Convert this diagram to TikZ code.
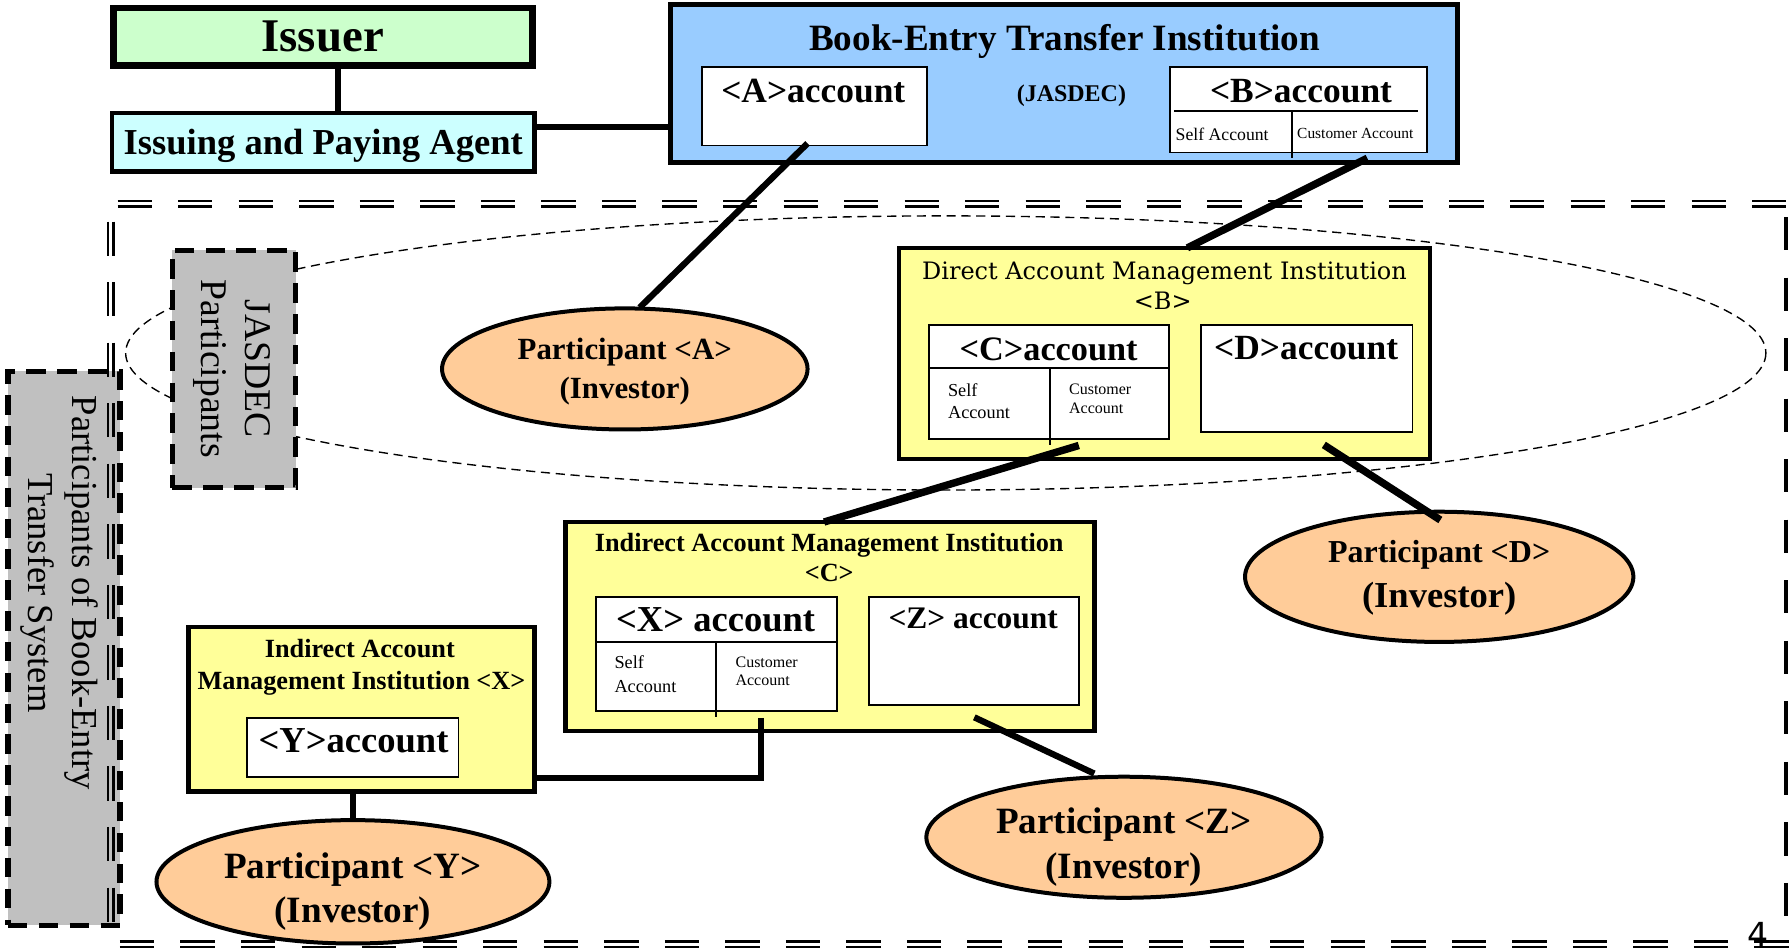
\documentclass[tikz,border=0pt]{standalone}
\usepackage{fontspec}
\setmainfont{Liberation Serif}
\newfontfamily\djserif{DejaVu Serif}
\newfontfamily\djsans{DejaVu Sans}
\usetikzlibrary{shapes.geometric,calc}
\newcommand\myfs[2]{\fontsize{#1}{#2}\selectfont}
\definecolor{cIssuer}{HTML}{CCFFCC}
\definecolor{cIPA}{HTML}{CCFFFF}
\definecolor{cBETI}{HTML}{99CCFF}
\definecolor{cYel}{HTML}{FFFF99}
\definecolor{cPart}{HTML}{FFCC99}
\definecolor{cGray}{HTML}{C0C0C0}
\tikzset{
  boxbase/.style={draw, rectangle, inner sep=0pt, outer sep=0pt},
  bigbox/.style={boxbase, line width=4pt, fill=cYel},
  acct/.style={boxbase, line width=1.5pt, fill=white},
  part/.style={draw, ellipse, line width=3.5pt, fill=cPart, inner sep=0pt},
  graybox/.style={boxbase, line width=4.5pt, fill=cGray, dash pattern=on 17pt off 10pt},
  txt/.style={inner sep=0pt, outer sep=0pt, anchor=base},
  txtl/.style={inner sep=0pt, outer sep=0pt, anchor=base west},
  conn/.style={line width=5.5pt},
  connthick/.style={line width=6.5pt},
  dbl/.style={line width=2.3pt, dash pattern=on 30pt off 23pt},
  divider/.style={line width=1.5pt}
}
\begin{document}
\begin{tikzpicture}[x=1pt,y=-1pt]
\useasboundingbox (0,0) rectangle (1568,833);

% dashed JASDEC participants ellipse
\draw[line width=1.2pt, dash pattern=on 8pt off 5pt] (828,309) ellipse [x radius=718, y radius=120];

% gray side boxes
\node[graybox, minimum width=108pt, minimum height=208pt] (jbox) at (205,323) {};
\node[rotate=-90, align=center, inner sep=0pt, font=\myfs{33}{38}] (jT) at (203,323) {JASDEC\\Participants};
\node[graybox, minimum width=98pt, minimum height=485pt] (pbox) at (56,567.5) {};
\node[rotate=-90, align=center, inner sep=0pt, font=\myfs{32}{38}] (pT) at (52,519) {Participants of Book-Entry\\Transfer System};

% outer double-dashed frame
\draw[dbl] (103,176) -- (1568,176);
\draw[dbl] (103,181) -- (1568,181);
\draw[dbl] (105,824) -- (1568,824);
\draw[dbl] (105,829) -- (1568,829);
\draw[dbl] (94.5,194) -- (94.5,807);
\draw[dbl] (99.5,194) -- (99.5,807);
\draw[line width=3.5pt, dash pattern=on 29pt off 24pt] (1564,190) -- (1564,803);
\node[txt, font=\djsans\myfs{29}{34}] (pgnum) at (1539,829) {4};

% top boxes
\node[boxbase, line width=6pt, fill=cIssuer, minimum width=367pt, minimum height=50pt,
      font=\myfs{41}{46}\bfseries] (issuer) at (282.5,32) {Issuer};
\node[boxbase, line width=4pt, fill=cIPA, minimum width=370pt, minimum height=51pt,
      text depth=0pt, font=\myfs{32}{36}\bfseries] (ipa) at (283,124.5) {Issuing and Paying Agent};

\node[boxbase, line width=4.5pt, fill=cBETI, minimum width=689pt, minimum height=138pt] (beti) at (931.5,73) {};
\node[txt, font=\myfs{32.5}{38}\bfseries] (betiT) at (932,44) {Book-Entry Transfer Institution};
\node[acct, minimum width=197pt, minimum height=69pt] (aacc) at (713,93) {};
\node[txt, font=\myfs{31}{36}\bfseries] (aT) at (712,90) {<A>account};
\node[txt, font=\myfs{21}{25}\bfseries] (jasdecT) at (938,89) {(JASDEC)};
\node[acct, minimum width=225pt, minimum height=75pt] (bacc) at (1137,96) {};
\node[txt, font=\myfs{31}{36}\bfseries] (bT) at (1139,90) {<B>account};
\draw[line width=2pt] (1028,97) -- (1241,97);
\draw[divider] (1131,98) -- (1131,138);
\node[txt, font=\myfs{15.5}{18}] (bSelf) at (1070,123) {Self Account};
\node[txt, font=\myfs{13.5}{16}] (bCust) at (1186.5,121) {Customer Account};

% direct account management institution
\node[bigbox, minimum width=465pt, minimum height=185pt] (direct) at (1019.5,309.5) {};
\node[txt, font=\djserif\myfs{21}{25}] (dirT1) at (1019.5,245) {Direct Account Management Institution};
\node[txt, font=\djserif\myfs{21}{25}] (dirT2) at (1018,271) {<B>};
\node[acct, minimum width=210pt, minimum height=100pt] (cacc) at (918.5,334.5) {};
\draw[divider] (813,322) -- (1024,322);
\draw[divider] (919,322) -- (919,390);
\node[txt, font=\myfs{30}{35}\bfseries] (cT) at (918,316) {<C>account};
\node[txtl, font=\myfs{16}{19}] (cS1) at (830,347) {Self};
\node[txtl, font=\myfs{16}{19}] (cS2) at (830,366) {Account};
\node[txtl, font=\myfs{14}{17}] (cC1) at (936,345) {Customer};
\node[txtl, font=\myfs{14}{17}] (cC2) at (936,362) {Account};
\node[acct, minimum width=185pt, minimum height=94pt] (dacc) at (1144,331.5) {};
\node[txt, font=\myfs{31}{36}\bfseries] (dT) at (1143.5,315) {<D>account};

% indirect <C>
\node[bigbox, minimum width=463pt, minimum height=183pt] (indC) at (726.5,548.5) {};
\node[txt, font=\myfs{23}{27}\bfseries] (icT1) at (726,483) {Indirect Account Management Institution};
\node[txt, font=\myfs{23}{27}\bfseries] (icT2) at (726,509) {<C>};
\node[acct, minimum width=211pt, minimum height=100pt] (xacc) at (627,572.5) {};
\draw[divider] (521,562) -- (733,562);
\draw[divider] (627,562) -- (627,628);
\node[txt, font=\myfs{32}{37}\bfseries] (xT) at (626.5,553) {<X> account};
\node[txtl, font=\myfs{16}{19}] (xS1) at (538,585) {Self};
\node[txtl, font=\myfs{16}{19}] (xS2) at (538,606) {Account};
\node[txtl, font=\myfs{14}{17}] (xC1) at (644,584) {Customer};
\node[txtl, font=\myfs{14}{17}] (xC2) at (644,600) {Account};
\node[acct, minimum width=184pt, minimum height=95pt] (zacc) at (852.5,570) {};
\node[txt, font=\myfs{27.5}{32}\bfseries] (zT) at (852,550) {<Z> account};

% indirect <X>
\node[bigbox, minimum width=303pt, minimum height=144pt] (indX) at (316.5,621) {};
\node[txt, font=\myfs{23}{27}\bfseries] (ixT1) at (315,576) {Indirect Account};
\node[txt, font=\myfs{23}{27}\bfseries] (ixT2) at (316.5,604) {Management Institution <X>};
\node[acct, minimum width=185pt, minimum height=52pt] (yacc) at (309,654.5) {};
\node[txt, font=\myfs{32}{37}\bfseries] (yT) at (309.5,659) {<Y>account};

% participants
\node[part, minimum width=320pt, minimum height=106pt] (pa) at (547,323) {};
\node[align=center, inner sep=0pt, font=\myfs{27}{34}\bfseries] (paT) at (547,325) {Participant <A>\\(Investor)};
\node[part, minimum width=340pt, minimum height=114pt] (pd) at (1260,505) {};
\node[align=center, inner sep=0pt, font=\myfs{28}{39}\bfseries] (pdT) at (1260,506) {Participant <D>\\{\myfs{32}{39}(Investor)}};
\node[part, minimum width=346pt, minimum height=106pt] (pz) at (984,733) {};
\node[align=center, inner sep=0pt, font=\myfs{32.5}{40}\bfseries] (pzT) at (984,741.5) {Participant <Z>\\(Investor)};
\node[part, minimum width=344pt, minimum height=108pt] (py) at (309,772) {};
\node[align=center, inner sep=0pt, font=\myfs{32.5}{38}\bfseries] (pyT) at (309,780.5) {Participant <Y>\\(Investor)};

% connectors
\coordinate (cx1) at (296,0);
\coordinate (cy1) at (0,111);
\draw[conn] (issuer.south -| cx1) -- (ipa.north -| cx1);
\draw[conn] (ipa.east |- cy1) -- (beti.west |- cy1);
\draw[conn] ($(aacc.south)+(-6,-2)$) -- ($(pa.north)+(13,1)$);
\draw[connthick] ($(bacc.south)+(60,5)$) -- ($(direct.north)+(20,0)$);
\draw[connthick] ($(cacc.south)+(26,5.5)$) -- ($(indC.north)+(-5,0)$);
\draw[connthick] ($(dacc.south)+(15,11)$) -- ($(pd.north)+(1,9)$);
\draw[conn, line join=miter] ($(xacc.south)+(39,6)$) |- ($(indX.east)+(0,60)$);
\draw[conn] ($(zacc.south)+(0.5,10.5)$) -- ($(pz.north)+(-26,-1)$);
\draw[conn] (indX.south -| py.north) -- (py.north);
\end{tikzpicture}
\end{document}
